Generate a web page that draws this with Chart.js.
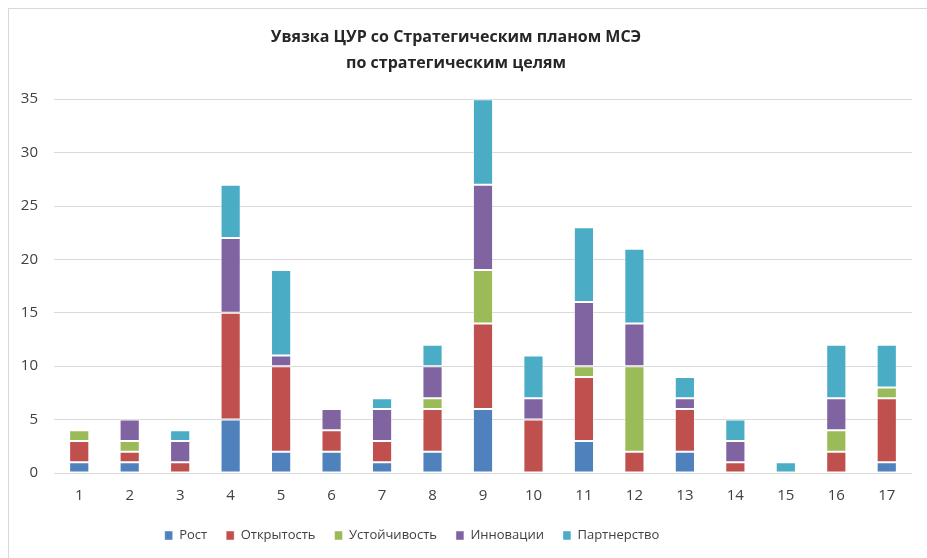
<!DOCTYPE html>
<html><head><meta charset="utf-8">
<script src="https://cdn.jsdelivr.net/npm/chart.js@4/dist/chart.umd.min.js"></script>
<style>html,body{margin:0;padding:0;background:#fff}
#wrap{position:relative;width:927px;height:558px}
#frame{position:absolute;left:8px;top:8px;right:-2px;bottom:-2px;border:1px solid #d9d9d9;pointer-events:none}</style>
</head><body><div id="wrap"><canvas id="c" width="927" height="558"></canvas><div id="frame"></div></div>
<script>
const categories = ["1","2","3","4","5","6","7","8","9","10","11","12","13","14","15","16","17"];
const rost       = [1,1,0,5,2,2,1,2,6,0,3,0,2,0,0,0,1];
const otkrytost  = [2,1,1,10,8,2,2,4,8,5,6,2,4,1,0,2,6];
const ustoich    = [1,1,0,0,0,0,0,1,5,0,1,8,0,0,0,2,1];
const innovacii  = [0,2,2,7,1,2,3,3,8,2,6,4,1,2,0,3,0];
const partner    = [0,0,1,5,8,0,1,2,8,4,7,7,2,2,1,5,4];
const yTicks = [0,5,10,15,20,25,30,35];

const font = "'Open Sans', sans-serif";
function ds(label, data, color){
  return {label, data, backgroundColor: color, borderColor: 'rgba(255,255,255,0.45)', borderWidth: 1, borderSkipped: false,
          barPercentage: 0.4, categoryPercentage: 1.0};
}
const legendShift = {
  id: 'legendShift',
  afterLayout(chart){ const l = chart.legend; if (l) { l.left -= 44; l.right -= 44; } }
};
new Chart(document.getElementById('c'), {
  type: 'bar',
  data: {
    labels: categories,
    datasets: [
      ds('Рост', rost, '#4f81bd'),
      ds('Открытость', otkrytost, '#c0504d'),
      ds('Устойчивость', ustoich, '#9bbb59'),
      ds('Инновации', innovacii, '#8064a2'),
      ds('Партнерство', partner, '#4bacc6')
    ]
  },
  plugins: [legendShift],
  options: {
    responsive: false,
    animation: false,
    layout: {padding: {left: 0, right: 15, top: 0, bottom: 6}},
    plugins: {
      title: {display: true, text: ['Увязка ЦУР со Стратегическим планом МСЭ','по стратегическим целям'],
        color: '#262626', font: {family: font, size: 16, weight: 'bold', lineHeight: 1.6}, padding: {top: 25, bottom: 23}},
      legend: {position: 'bottom', labels: {boxWidth: 8, boxHeight: 9, color: '#404040', padding: 19,
        font: {family: font, size: 13}}},
      tooltip: {enabled: false}
    },
    scales: {
      x: {stacked: true, grid: {display: false, drawTicks: false}, border: {display: false},
        afterFit: s => { s.height = 37; },
        ticks: {color: '#404040', font: {family: font, size: 15}, padding: 14}},
      y: {stacked: true, min: 0, max: 35,
        afterFit: s => { s.width = 54; },
        afterBuildTicks: s => { s.ticks = yTicks.map(v => ({value: v})); },
        grid: {color: '#d9d9d9', lineWidth: 1, drawTicks: false}, border: {display: false},
        ticks: {color: '#404040', font: {family: font, size: 15}, padding: 16}}
    }
  }
});
</script></body></html>
